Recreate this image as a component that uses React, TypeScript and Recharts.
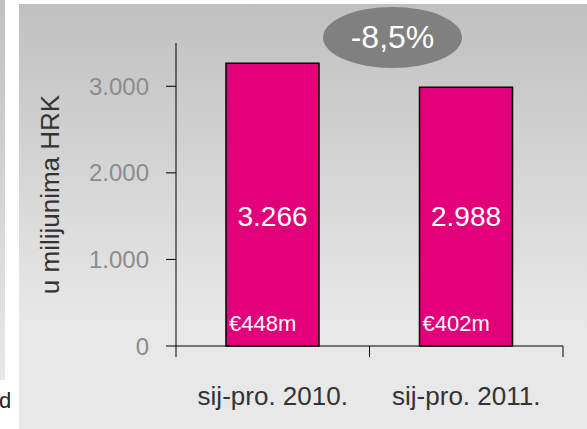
import { BarChart, Bar, XAxis, YAxis, LabelList, Label } from 'recharts'

const categories = ['sij-pro. 2010.', 'sij-pro. 2011.']
const revenue = [3266, 2988]
const euroLabels = ['€448m', '€402m']
const yTicks = [0, 1000, 2000, 3000]
const changeLabel = '-8,5%'
const yAxisTitle = 'u milijunima HRK'

const data = categories.map((period, i) => ({ period, value: revenue[i], eur: euroLabels[i] }))

const FONT = '"Liberation Sans", Arial, sans-serif'
const X_TICK_MARGIN = 0

const fmt = (v: number) => String(v).replace(/\B(?=(\d{3})+(?!\d))/g, '.')

function XTick(props: any) {
  const { x, y, payload, index } = props
  const half = payload?.offset ?? 0
  const axisY = y - X_TICK_MARGIN
  return (
    <g>
      <line x1={x - half} x2={x - half} y1={axisY} y2={axisY + 11} stroke="#000" />
      {index === categories.length - 1 && (
        <line x1={x + half} x2={x + half} y1={axisY} y2={axisY + 11} stroke="#000" />
      )}
      <text x={x} y={axisY + 59} textAnchor="middle" fill="#333" fontSize={26} fontFamily={FONT}>
        {payload.value}
      </text>
    </g>
  )
}

function ValueLabel(props: any) {
  const { x, y, width, height, value } = props
  return (
    <text x={x + width / 2} y={y + height - 130} textAnchor="middle" dominantBaseline="central"
      fill="#fff" fontSize={28} fontFamily={FONT}>
      {fmt(value)}
    </text>
  )
}

function EuroLabel(props: any) {
  const { x, y, height, value } = props
  return (
    <text x={x + 3} y={y + height - 23} dominantBaseline="central" fill="#fff" fontSize={22} fontFamily={FONT}>
      {value}
    </text>
  )
}

export default function App() {
  return (
    <div style={{ position: 'relative', width: 587, height: 429, overflow: 'hidden', background: '#fff', fontFamily: FONT }}>
      <style>{'body{margin:0}'}</style>
      <div style={{ position: 'absolute', left: 0, top: 0, width: 5, height: 380, background: 'linear-gradient(#c0c0c0, #e8e8e8)' }} />
      <div style={{ position: 'absolute', left: -1, top: 388, fontSize: 22, color: '#222' }}>d</div>
      <div style={{ position: 'absolute', left: 19, top: 4, width: 568, height: 425, background: 'linear-gradient(#c0c0c0, #e8e8e8 75%, #e8e8e8)' }}>
        <BarChart width={568} height={425} data={data} margin={{ top: 39, right: 24, left: 0, bottom: 23 }}>
          <YAxis
            width={157}
            domain={[0, 3500]}
            ticks={yTicks}
            tickFormatter={fmt}
            axisLine={{ stroke: '#000' }}
            tickLine={{ stroke: '#000' }}
            tickSize={10}
            tickMargin={17}
            tick={{ fill: '#8c8c8c', fontSize: 24, fontFamily: FONT }}
          >
            <Label value={yAxisTitle} angle={-90} position="insideLeft" offset={31}
              style={{ textAnchor: 'middle', fill: '#333', fontSize: 26, fontFamily: FONT }} />
          </YAxis>
          <XAxis
            dataKey="period"
            height={60}
            axisLine={{ stroke: '#000' }}
            tickLine={false}
            tickSize={0}
            tickMargin={X_TICK_MARGIN}
            tick={<XTick />}
            interval={0}
          />
          <Bar dataKey="value" fill="#e2007a" stroke="#000" strokeWidth={1.5} barSize={93} isAnimationActive={false}>
            <LabelList dataKey="value" content={<ValueLabel />} />
            <LabelList dataKey="eur" content={<EuroLabel />} />
          </Bar>
        </BarChart>
      </div>
      <div style={{
        position: 'absolute', left: 323, top: 7, width: 139, height: 61, borderRadius: '50%',
        background: '#808080', color: '#fff', fontSize: 32, display: 'flex',
        alignItems: 'center', justifyContent: 'center',
      }}>
        {changeLabel}
      </div>
    </div>
  )
}
